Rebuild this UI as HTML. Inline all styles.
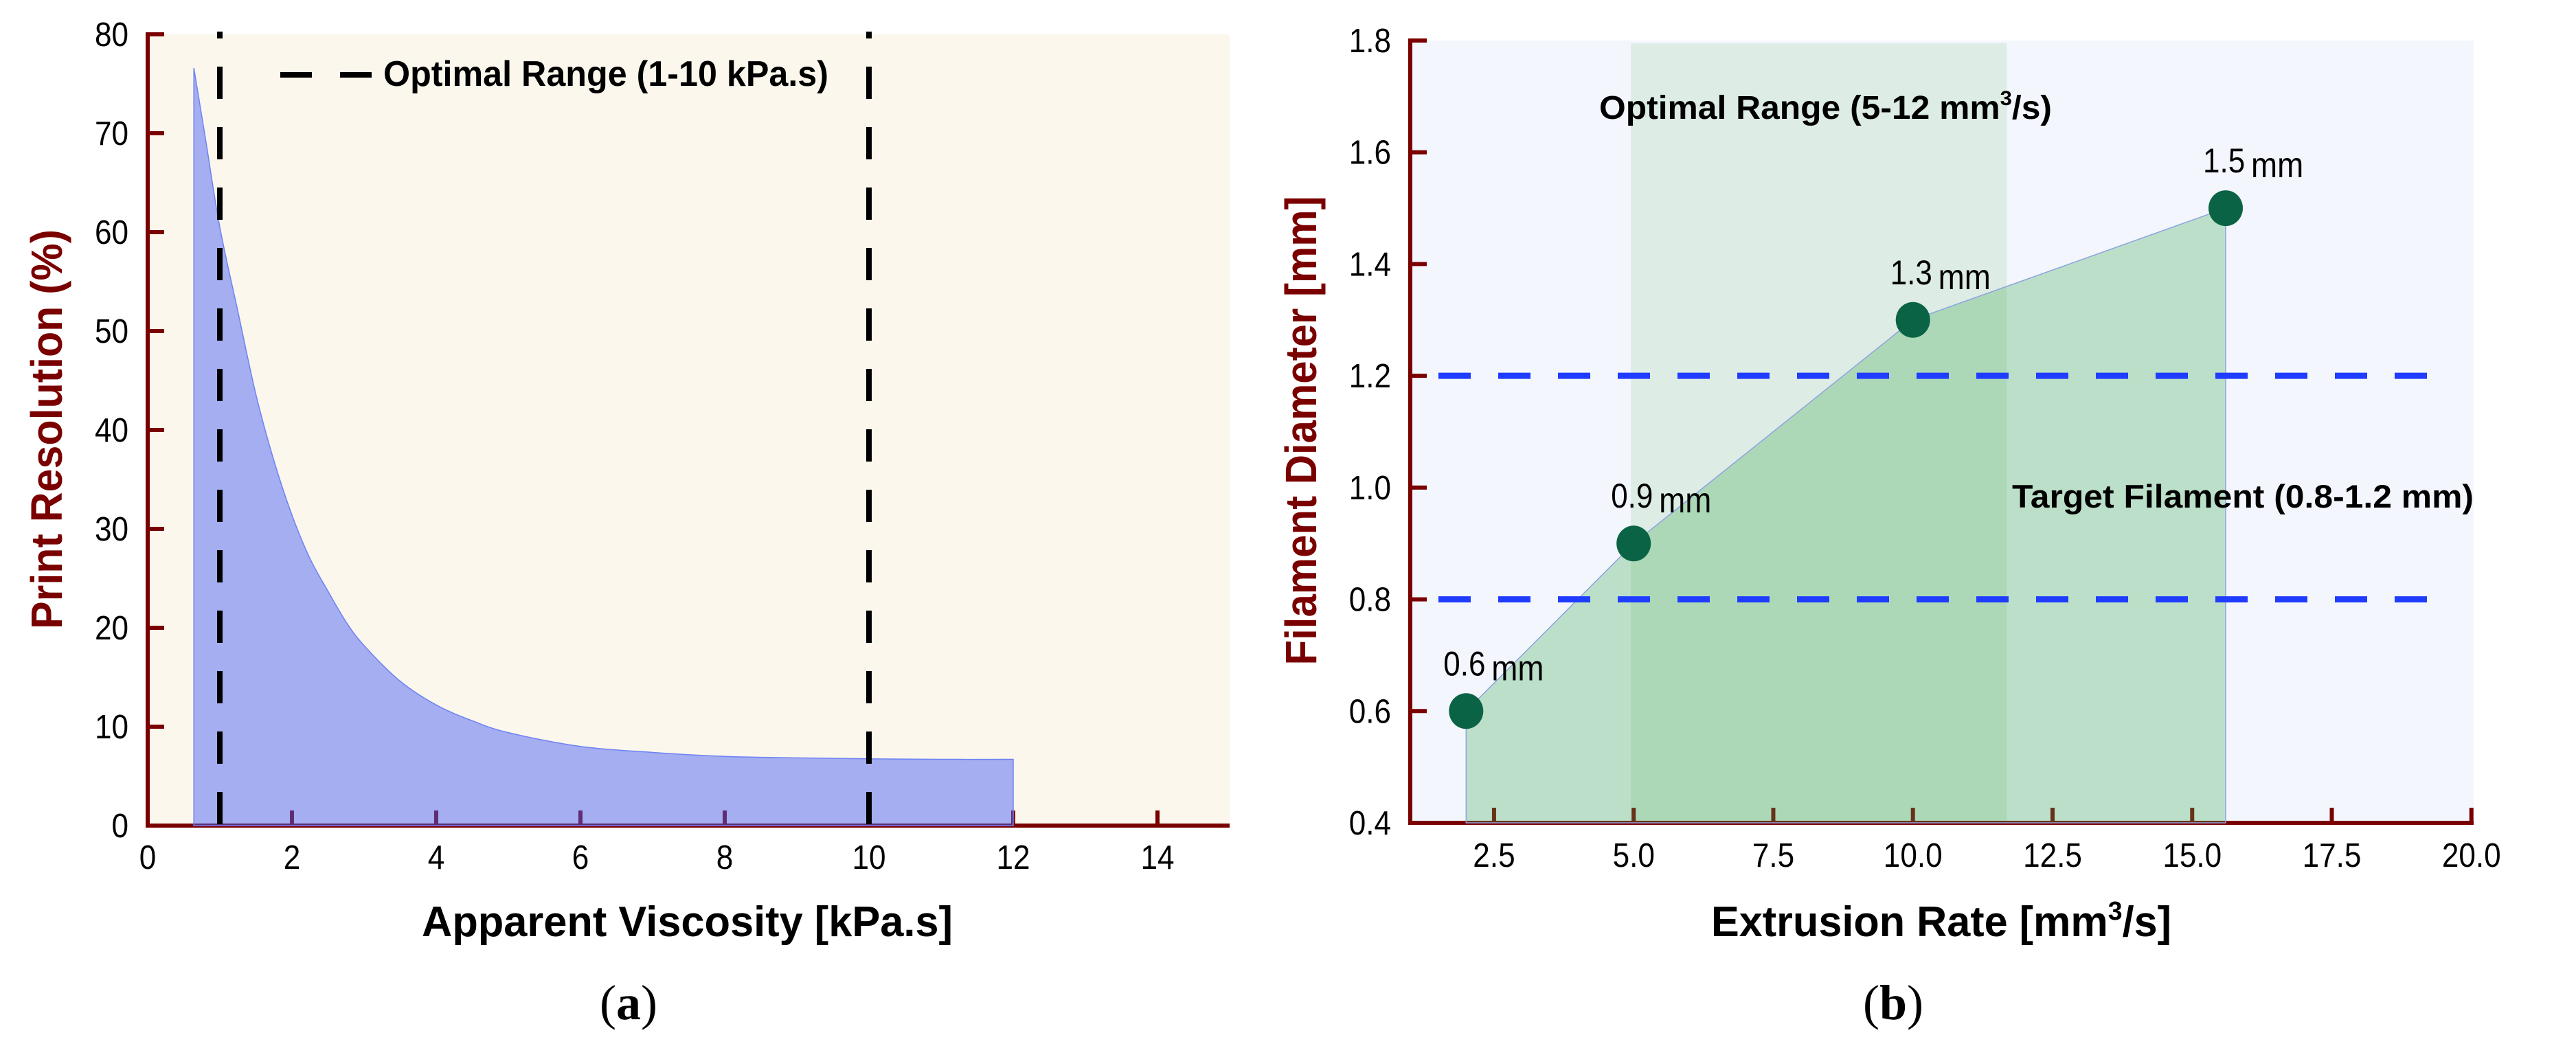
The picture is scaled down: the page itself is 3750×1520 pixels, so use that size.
<!DOCTYPE html>
<html><head><meta charset="utf-8"><style>
html,body{margin:0;padding:0;background:#fff;}
svg{display:block;}
</style></head><body>
<svg id="fig" width="3750" height="1520" viewBox="0 0 3750 1520" xmlns="http://www.w3.org/2000/svg"></svg>
<script>
// ---- Chart (a) data ----
const viscX = [0.64,0.8,1,1.25,1.5,1.75,2,2.25,2.5,2.75,3,3.5,4,4.5,5,6,7,8,9,10,11,12];
const resY  = [76.6,69.5,60.5,52,43.6,36.9,31.4,27.0,23.7,20.6,18.2,14.6,12.2,10.6,9.4,8.0,7.4,7.0,6.85,6.75,6.7,6.7];
const aXTicks = [0,2,4,6,8,10,12,14];
const aYTicks = [0,10,20,30,40,50,60,70,80];
const aOptimal = [1,10];
// ---- Chart (b) data ----
const rateX = [2,5,10,15.6];
const diamY = [0.6,0.9,1.3,1.5];
const diamLabels = ["0.6","0.9","1.3","1.5"];
const bXTicks = [2.5,5,7.5,10,12.5,15,17.5,20];
const bXTickLabels = ["2.5","5.0","7.5","10.0","12.5","15.0","17.5","20.0"];
const bYTicks = [0.4,0.6,0.8,1.0,1.2,1.4,1.6,1.8];
const bYTickLabels = ["0.4","0.6","0.8","1.0","1.2","1.4","1.6","1.8"];
const bBand = [4.95,11.68];
const bTarget = [0.8,1.2];

const NS="http://www.w3.org/2000/svg";
const svg=document.getElementById('fig');
function el(tag,attrs,parent,text){const e=document.createElementNS(NS,tag);for(const k in attrs)e.setAttribute(k,attrs[k]);if(text!==undefined)e.textContent=text;(parent||svg).appendChild(e);return e;}
const SANS='"Liberation Sans", Arial, sans-serif';

// scales (a)
const ax0=215, ax1=1790, ay0=1202, ay1=50;
const axS=v=>ax0+(v-0)/15*(ax1-ax0);
const ayS=v=>ay0+(v-0)/80*(ay1-ay0);
// scales (b)
const bx0=2053, bx1=3601, by0=1198, by1=59;
const bxS=v=>bx0+(v-1)/(20.04-1)*(bx1-bx0);
const byS=v=>by0+(v-0.4)/1.4*(by1-by0);

// ===== Chart (a) =====
const gA=el('g',{});


const bgA=el('rect',{x:ax0,y:ay1,width:ax1-ax0,height:ay0-ay1,fill:'#fbf7ec'},gA);


const axA=el('path',{d:`M${ax0},${ay1-3} V${ay0} H${ax1}`,stroke:'#7a0000','stroke-width':6,fill:'none'},gA);


aYTicks.forEach(v=>{
  const y=ayS(v);
  if(v>0){const t=el('line',{x1:ax0,x2:ax0+24,y1:y,y2:y,stroke:'#7a0000','stroke-width':6},gA);
  
  }
  const l=el('text',{transform:`translate(187,${y+17}) scale(0.9,1)`,'text-anchor':'end','font-family':SANS,'font-size':49,fill:'#000'},gA,String(v));
  
  
});
aXTicks.forEach(v=>{
  const x=axS(v);
  if(v>0){const t=el('line',{x1:x,x2:x,y1:ay0,y2:ay0-22,stroke:'#7a0000','stroke-width':6},gA);
  
  }
  const l=el('text',{transform:`translate(${x},1265) scale(0.9,1)`,'text-anchor':'middle','font-family':SANS,'font-size':49,fill:'#000'},gA,String(v));
  
  
});
const pts=viscX.map((x,i)=>[axS(x),ayS(resY[i])]);
let dA=`M${pts[0][0]},${ayS(0)} L${pts[0][0]},${pts[0][1]} `;
for(let i=0;i<pts.length-1;i++){
  const p0=pts[Math.max(0,i-1)],p1=pts[i],p2=pts[i+1],p3=pts[Math.min(pts.length-1,i+2)];
  const c1x=p1[0]+(p2[0]-p0[0])/6,c1y=p1[1]+(p2[1]-p0[1])/6;
  const c2x=p2[0]-(p3[0]-p1[0])/6,c2y=p2[1]-(p3[1]-p1[1])/6;
  dA+=`C${c1x},${c1y} ${c2x},${c2y} ${p2[0]},${p2[1]} `;
}
dA+=`L${pts[pts.length-1][0]},${ayS(0)} Z`;
const areaA=el('path',{d:dA,fill:'rgb(70,95,245)','fill-opacity':0.48,stroke:'rgb(110,130,245)','stroke-width':1.5},gA);


aOptimal.forEach(v=>{
  const x=axS(v);
  const l=el('line',{x1:x,x2:x,y1:ay0,y2:46,stroke:'#000','stroke-width':8,'stroke-dasharray':'47 41','stroke-dashoffset':-2},gA);
  
  
});
const lg=el('g',{},gA);


el('line',{x1:408,x2:542,y1:109,y2:109,stroke:'#000','stroke-width':8,'stroke-dasharray':'46 41'},lg);
const lgt=el('text',{x:558,y:125,'font-family':SANS,'font-size':52,'font-weight':'bold',textLength:648,lengthAdjust:'spacingAndGlyphs'},lg,'Optimal Range (1-10 kPa.s)');


const yta=el('text',{transform:'translate(90,625) rotate(-90)','text-anchor':'middle','font-family':SANS,'font-size':64,'font-weight':'bold',fill:'#7a0000',textLength:582,lengthAdjust:'spacingAndGlyphs'},gA,'Print Resolution (%)');


const xta=el('text',{x:614,y:1363,'font-family':SANS,'font-size':62,'font-weight':'bold',textLength:773,lengthAdjust:'spacingAndGlyphs'},gA,'Apparent Viscosity [kPa.s]');


const capA=el('text',{x:915,y:1484,'text-anchor':'middle','font-family':'"Liberation Serif", serif','font-size':72},gA);


el('tspan',{},capA,'(');el('tspan',{'font-weight':'bold'},capA,'a');el('tspan',{},capA,')');

// ===== Chart (b) =====
const gB=el('g',{});


const bgB=el('rect',{x:bx0,y:by1,width:bx1-bx0,height:by0-by1,fill:'#f3f6fd'},gB);


const band=el('rect',{x:bxS(bBand[0]),y:by1+4,width:bxS(bBand[1])-bxS(bBand[0]),height:by0-by1-4,fill:'#ddece5'},gB);


const axB=el('path',{d:`M${bx0},${by1-3} V${by0} H${bx1}`,stroke:'#7a0000','stroke-width':6,fill:'none'},gB);


bYTicks.forEach((v,i)=>{
  const y=byS(v);
  if(i>0){const t=el('line',{x1:bx0,x2:bx0+24,y1:y,y2:y,stroke:'#7a0000','stroke-width':6},gB);
  
  }
  const l=el('text',{transform:`translate(2025,${y+17}) scale(0.9,1)`,'text-anchor':'end','font-family':SANS,'font-size':49},gB,bYTickLabels[i]);
  
  
});
bXTicks.forEach((v,i)=>{
  const x=bxS(v);
  const t=el('line',{x1:x,x2:x,y1:by0,y2:by0-22,stroke:'#7a0000','stroke-width':6},gB);
  
  
  const l=el('text',{transform:`translate(${x},1262) scale(0.9,1)`,'text-anchor':'middle','font-family':SANS,'font-size':49},gB,bXTickLabels[i]);
  
  
});
let dB=`M${bxS(rateX[0])},${byS(0.4)} `;
rateX.forEach((x,i)=>{dB+=`L${bxS(x)},${byS(diamY[i])} `;});
dB+=`L${bxS(rateX[rateX.length-1])},${byS(0.4)} Z`;
const areaB=el('path',{d:dB,fill:'rgb(60,170,80)','fill-opacity':0.3,stroke:'#8fa3e0','stroke-width':1.5},gB);


bTarget.forEach(v=>{
  const y=byS(v);
  const l=el('line',{x1:2094,x2:3545,y1:y,y2:y,stroke:'#1f3cff','stroke-width':9,'stroke-dasharray':'47 40'},gB);
  
  
});
rateX.forEach((x,i)=>{
  const cx=bxS(x), cy=byS(diamY[i]);
  const c=el('ellipse',{cx:cx,cy:cy,rx:25,ry:26,fill:'#0a6344'},gB);
  
  
  const t=el('text',{transform:`translate(${cx-33},${cy-52}) scale(0.88,1)`,'font-family':SANS,'font-size':50},gB);
  
  
  el('tspan',{},t,diamLabels[i]);
  el('tspan',{'font-size':52,dx:10,dy:7},t,'mm');
});
const opt=el('text',{x:2328,y:173,'font-family':SANS,'font-size':48,'font-weight':'bold',textLength:659,lengthAdjust:'spacingAndGlyphs'},gB);


el('tspan',{},opt,'Optimal Range (5-12 mm');el('tspan',{'font-size':30,dy:-20},opt,'3');el('tspan',{dy:20},opt,'/s)');
const tgt=el('text',{x:2929,y:739,'font-family':SANS,'font-size':47,'font-weight':'bold',textLength:672,lengthAdjust:'spacingAndGlyphs'},gB,'Target Filament (0.8-1.2 mm)');


const ytb=el('text',{transform:'translate(1916,627) rotate(-90)','text-anchor':'middle','font-family':SANS,'font-size':64,'font-weight':'bold',fill:'#7a0000',textLength:683,lengthAdjust:'spacingAndGlyphs'},gB,'Filament Diameter [mm]');


const xtb=el('text',{x:2491,y:1363,'font-family':SANS,'font-size':62,'font-weight':'bold',textLength:670,lengthAdjust:'spacingAndGlyphs'},gB);


el('tspan',{},xtb,'Extrusion Rate [mm');el('tspan',{'font-size':38,dy:-24},xtb,'3');el('tspan',{dy:24},xtb,'/s]');
const capB=el('text',{x:2756,y:1484,'text-anchor':'middle','font-family':'"Liberation Serif", serif','font-size':72},gB);


el('tspan',{},capB,'(');el('tspan',{'font-weight':'bold'},capB,'b');el('tspan',{},capB,')');
</script>
</body></html>
